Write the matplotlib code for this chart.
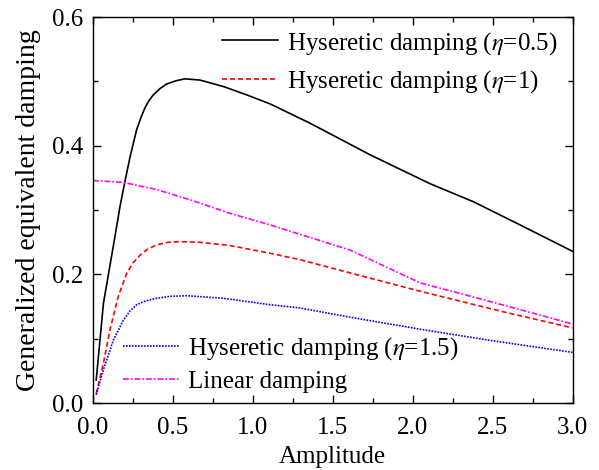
import numpy as np
import matplotlib
matplotlib.use("Agg")
import matplotlib.pyplot as plt
from matplotlib.ticker import MultipleLocator

# ---- data ----
x_h05 = [0.02, 0.065, 0.138, 0.169, 0.2, 0.232, 0.273, 0.3, 0.325, 0.35, 0.377, 0.42, 0.461,
         0.52, 0.576, 0.67, 0.816, 0.962, 1.108, 1.358, 1.733, 2.109, 2.38, 2.672, 3.0]
y_h05 = [0.036, 0.155, 0.26, 0.306, 0.345, 0.383, 0.425, 0.444, 0.459, 0.47, 0.479, 0.489, 0.496,
         0.501, 0.504, 0.502, 0.492, 0.479, 0.465, 0.435, 0.386, 0.341, 0.313, 0.277, 0.236]

x_h1 = [0.02, 0.065, 0.106, 0.158, 0.211, 0.25, 0.294, 0.34, 0.398, 0.47, 0.544, 0.67, 0.857,
        1.108, 1.295, 1.6, 2.046, 2.55, 3.0]
y_h1 = [0.015, 0.062, 0.114, 0.166, 0.202, 0.218, 0.23, 0.239, 0.246, 0.25, 0.251, 0.25, 0.245,
        0.233, 0.223, 0.203, 0.174, 0.143, 0.117]

x_h15 = [0.02, 0.065, 0.127, 0.19, 0.23, 0.273, 0.33, 0.398, 0.48, 0.586, 0.816, 1.108, 1.295,
         1.6, 2.046, 2.5, 3.0]
y_h15 = [0.013, 0.052, 0.098, 0.129, 0.143, 0.153, 0.159, 0.163, 0.166, 0.167, 0.163, 0.153,
         0.148, 0.134, 0.115, 0.097, 0.079]

x_lin = [0.0, 0.19, 0.398, 0.607, 0.857, 1.108, 1.608, 2.046, 2.5, 3.0]
y_lin = [0.346, 0.343, 0.332, 0.316, 0.295, 0.277, 0.238, 0.187, 0.157, 0.123]

labels = [r'Hyseretic damping ($\eta$=0.5)', r'Hyseretic damping ($\eta$=1)',
          r'Hyseretic damping ($\eta$=1.5)', 'Linear damping']

# ---- style ----
plt.rcParams['font.family'] = 'Liberation Serif'
plt.rcParams['mathtext.fontset'] = 'stix'
plt.rcParams['axes.linewidth'] = 1.0

fig = plt.figure(figsize=(5.99, 4.70), dpi=100)
ax = fig.add_axes([0.1553, 0.1421, 0.8005, 0.8217])

l1, = ax.plot(x_h05, y_h05, color='black', lw=1.2, ls='-')
l2, = ax.plot(x_h1, y_h1, color='#ff0000', lw=1.2, ls=(0, (3, 1.8)))
l3, = ax.plot(x_h15, y_h15, color='#0000ff', lw=1.2, ls=(0, (1, 0.8)))
l4, = ax.plot(x_lin, y_lin, color='#ff00ff', lw=1.2, ls=(0, (3.5, 1.2, 1, 1.2)))

ax.set_xlim(0, 3.0)
ax.set_ylim(0, 0.6)
ax.xaxis.set_major_locator(MultipleLocator(0.5))
ax.xaxis.set_minor_locator(MultipleLocator(0.25))
ax.yaxis.set_major_locator(MultipleLocator(0.2))
ax.yaxis.set_minor_locator(MultipleLocator(0.1))
ax.xaxis.set_major_formatter(plt.FormatStrFormatter('%.1f'))
ax.yaxis.set_major_formatter(plt.FormatStrFormatter('%.1f'))
ax.tick_params(which='both', direction='in', top=True, right=True, labelsize=18, width=1.0)
ax.tick_params(which='major', length=6)
ax.tick_params(which='minor', length=3.5)
ax.tick_params(axis='x', which='major', pad=10)
ax.tick_params(axis='y', which='major', pad=7)

ax.set_xlabel('Amplitude', fontsize=18, labelpad=5)
ax.set_ylabel('Generalized equivalent damping', fontsize=20, labelpad=8)

leg1 = ax.legend([l1, l2], labels[:2], loc='upper left', bbox_to_anchor=(0.269, 0.967),
                 frameon=False, fontsize=18, handlelength=2.24, handletextpad=0.36,
                 labelspacing=0.48, borderpad=0, borderaxespad=0)
ax.add_artist(leg1)
ax.legend([l3, l4], labels[2:], loc='upper left', bbox_to_anchor=(0.0626, 0.177),
          frameon=False, fontsize=18, handlelength=2.24, handletextpad=0.36,
          labelspacing=0.36, borderpad=0, borderaxespad=0)

fig.savefig('out.png', dpi=100)
